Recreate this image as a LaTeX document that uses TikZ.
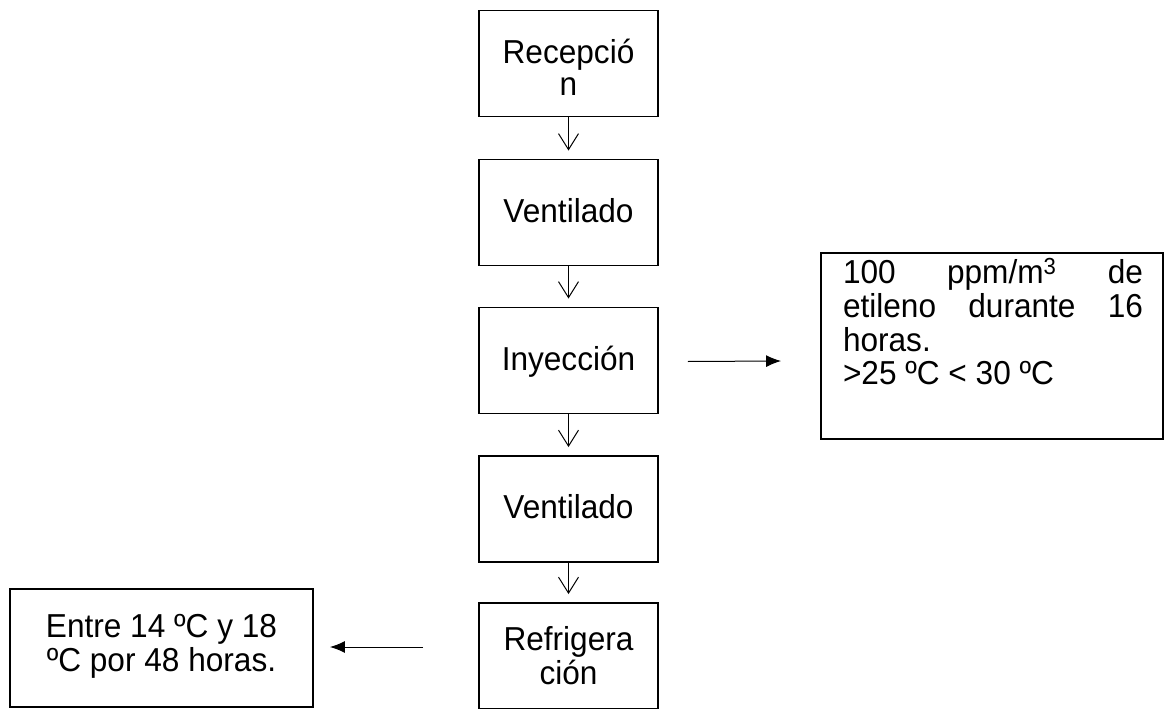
\documentclass[tikz,border=0pt]{standalone}
\usepackage{fontspec}
\usepackage{graphicx}
\setmainfont{Liberation Sans}
\usetikzlibrary{arrows.meta,calc}
\newcommand\vtx[2]{\scalebox{1}[1.05]{\begin{tabular}{@{}#1@{}}#2\end{tabular}}}
\begin{document}
\begin{tikzpicture}[x=1pt,y=-1pt,
  stepbox/.style={draw,line width=1.9pt,minimum width=179pt,minimum height=106pt,inner sep=0pt},
  txt/.style={inner sep=0pt,font=\fontsize{31.6}{31}\selectfont},
  flow/.style={line width=1pt,-{Straight Barb[length=16pt,width=20pt,line width=1pt]},shorten >=8pt},
  side/.style={line width=1pt,-{Latex[length=15pt,width=12pt]}},
  notebox/.style={draw,line width=1.9pt,inner sep=0pt}]
\useasboundingbox (0,0) rectangle (1168,709);
\node[stepbox] (b1) at (568.5,63.5) {};
\node[stepbox] (b2) at (568.5,212.5) {};
\node[stepbox] (b3) at (568.5,360.5) {};
\node[stepbox] (b4) at (568.5,509) {};
\node[stepbox] (b5) at (568.5,656) {};
\node[txt] (t1) at ($(b1)+(0,8.5)$) {\vtx{c}{Recepció\\n}};
\node[txt] (t2) at ($(b2)+(0,3)$) {\vtx{c}{Ventilado}};
\node[txt] (t3) at ($(b3)+(0,3)$) {\vtx{c}{Inyección}};
\node[txt] (t4) at ($(b4)+(0,2.5)$) {\vtx{c}{Ventilado}};
\node[txt] (t5) at ($(b5)+(0,4)$) {\vtx{c}{Refrigera\\ción}};
\draw[flow] (b1.south) -- (b2.north);
\draw[flow] (b2.south) -- (b3.north);
\draw[flow] (b3.south) -- (b4.north);
\draw[flow] (b4.south) -- (b5.north);
\node[notebox,minimum width=342pt,minimum height=186pt] (r) at (992,346) {};
\node[txt] (rt) at ($(r)+(1,-20)$) {\vtx{l}{\makebox[300pt][s]{100 ppm/m\textsuperscript{3} de}\\\makebox[300pt][s]{etileno durante 16}\\horas.\\>25 ºC < 30 ºC}};
\node[notebox,minimum width=303pt,minimum height=118pt] (l) at (161.5,648) {};
\node[txt] (lt) at (l) {\vtx{c}{Entre 14 ºC y 18\\ºC por 48 horas.}};
\draw[side] ($(b3.east)+(29,1)$) -- ($(r.west)+(-39,15)$);
\draw[side] ($(b5.west)+(-55,-9)$) -- ($(l.east)+(16,-1)$);
\end{tikzpicture}
\end{document}
